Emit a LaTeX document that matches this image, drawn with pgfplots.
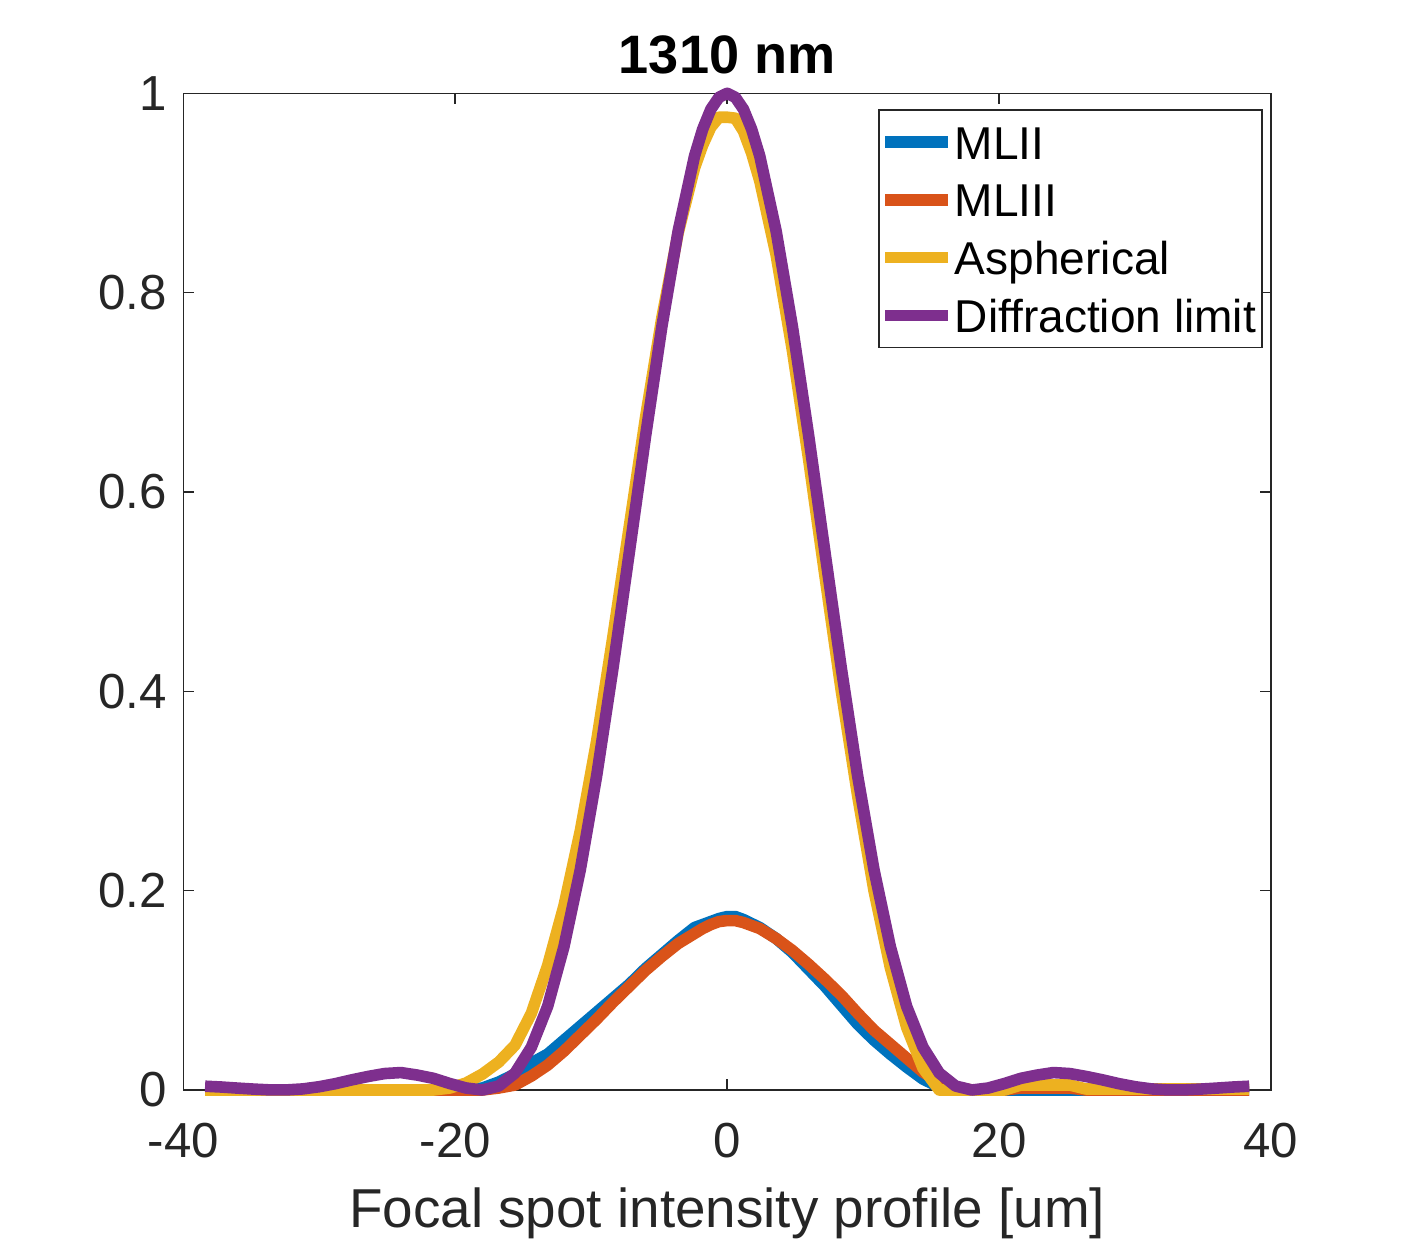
\documentclass[border=0pt]{standalone}
\usepackage{fontspec}
\setmainfont{Liberation Sans}
\usepackage{pgfplots}
\pgfplotsset{compat=1.18}
\usepackage{pgfplotstable}
\definecolor{mblue}{rgb}{0,0.447,0.741}
\definecolor{morange}{rgb}{0.85,0.325,0.098}
\definecolor{myellow}{rgb}{0.929,0.694,0.125}
\definecolor{mpurple}{rgb}{0.494,0.184,0.556}
\definecolor{axgray}{HTML}{262626}
\pgfplotsset{mylegend/.style={legend image code/.code={\fill[##1,draw=none] (0mm,-1.6pt) rectangle (6.3mm,1.6pt);}}}
\pgfplotstableread{
x b o y p
-38.4 0 0 0 0.0038
-37.2 0 0 0 0.0030
-36.0 0 0 0 0.0019
-34.8 0 0 0 0.0009
-33.6 0 0 0 0.0001
-32.4 0 0 0 0.0001
-31.2 0 0 0 0.0011
-30.0 0 0 0 0.0033
-28.8 0 0 0 0.0064
-27.6 0 0 0 0.0102
-26.4 0 0 0 0.0136
-25.2 0 0 0 0.0165
-24.0 0 0 0 0.0175
-22.8 0 0 0 0.0150
-21.6 0 0 0 0.0117
-20.4 0 0 0.002 0.0065
-19.2 0 0 0.007 0.0020
-18.0 0.002 0 0.016 0.0000
-16.8 0.008 0.002 0.028 0.004
-15.6 0.016 0.005 0.045 0.017
-14.4 0.027 0.014 0.077 0.043
-13.2 0.036 0.025 0.125 0.084
-12.0 0.050 0.039 0.185 0.144
-10.8 0.064 0.055 0.260 0.221
-9.6 0.078 0.071 0.350 0.315
-8.4 0.092 0.088 0.455 0.423
-7.2 0.106 0.104 0.565 0.539
-6.0 0.122 0.120 0.675 0.656
-4.8 0.136 0.134 0.775 0.766
-3.6 0.150 0.147 0.860 0.862
-2.4 0.163 0.157 0.925 0.937
-1.8 0.166 0.162 0.948 0.964
-1.2 0.169 0.166 0.966 0.984
-0.6 0.172 0.169 0.976 0.996
0.0 0.174 0.170 0.976 1.000
0.6 0.174 0.170 0.975 0.996
1.2 0.171 0.168 0.962 0.984
1.8 0.167 0.165 0.940 0.964
2.4 0.163 0.162 0.912 0.937
3.6 0.152 0.152 0.838 0.862
4.8 0.138 0.140 0.742 0.766
6.0 0.121 0.126 0.632 0.656
7.2 0.104 0.111 0.515 0.539
8.4 0.085 0.095 0.400 0.423
9.6 0.066 0.077 0.295 0.315
10.8 0.050 0.060 0.200 0.221
12.0 0.036 0.046 0.123 0.144
13.2 0.023 0.032 0.063 0.084
14.4 0.011 0.018 0.022 0.043
15.6 0.003 0.008 0 0.017
16.8 0 0.003 0 0.004
18.0 0 0 0 0.0000
19.2 0 0 0 0.0020
20.4 0 0 0 0.0065
21.6 0 0.002 0.005 0.0117
22.8 0 0.002 0.005 0.0150
24.0 0 0.002 0.005 0.0175
25.2 0 0.002 0.005 0.0165
26.4 0 0 0.001 0.0136
27.6 0 0 0.001 0.0102
28.8 0 0 0.001 0.0064
30.0 0 0 0.001 0.0033
31.2 0 0 0.001 0.0011
32.4 0 0 0.001 0.0001
33.6 0 0 0.001 0.0001
34.8 0 0 0.001 0.0009
36.0 0 0 0.001 0.0019
37.2 0 0 0.001 0.0030
38.4 0 0 0.001 0.0038
}\datatable
\begin{document}
\begin{tikzpicture}
\useasboundingbox (0,0) rectangle (140.6mm,123.8mm);
\begin{axis}[
  at={(18.33mm,14.8mm)}, anchor=south west,
  scale only axis, width=108.77mm, height=99.67mm,
  xmin=-40, xmax=40, ymin=0, ymax=1,
  clip=false,
  axis line style={color=axgray, line width=0.45pt},
  tick style={color=axgray, line width=0.45pt},
  tick align=inside, major tick length=1.1mm,
  xtick={-40,-20,0,20,40}, xticklabels={-40,-20,0,20,40},
  ytick={0,0.2,0.4,0.6,0.8,1}, yticklabels={0,0.2,0.4,0.6,0.8,1},
  xticklabel style={anchor=base, yshift=-6.7mm, inner sep=0pt, font=\fontsize{14}{16}\selectfont, text=axgray},
  yticklabel style={anchor=east, xshift=-1.6mm, inner sep=0pt, font=\fontsize{14}{16}\selectfont, text=axgray},
  title={1310 nm},
  every axis title/.style={at={(axis description cs:0.5,1)}, anchor=base, yshift=2.0mm, font=\fontsize{15.4}{18}\selectfont\bfseries},
  xlabel={Focal spot intensity profile [um]},
  every axis x label/.style={at={(axis description cs:0.5,0)}, anchor=base, yshift=-13.7mm, font=\fontsize{15.6}{18}\selectfont, text=axgray},
  legend cell align=left,
  legend style={at={(axis description cs:1,1)}, anchor=north east, xshift=-0.8mm, yshift=-1.6mm,
    draw=axgray, line width=0.45pt, fill=white,
    font=\fontsize{13.1}{15}\selectfont,
    inner xsep=0.62mm, inner ysep=0.31mm, row sep=0pt, column sep=0.7mm,
    nodes={inner sep=0pt, text height=4.59mm, text depth=1.19mm}},
  every axis plot/.append style={line width=3.3pt, line join=round},
]
\addplot[color=mblue, mylegend] table[x=x,y=b] {\datatable};
\addlegendentry{MLII}
\addplot[color=morange, mylegend] table[x=x,y=o] {\datatable};
\addlegendentry{MLIII}
\addplot[color=myellow, mylegend] table[x=x,y=y] {\datatable};
\addlegendentry{Aspherical}
\addplot[color=mpurple, mylegend] table[x=x,y=p] {\datatable};
\addlegendentry{Diffraction limit}
\end{axis}
\end{tikzpicture}
\end{document}
